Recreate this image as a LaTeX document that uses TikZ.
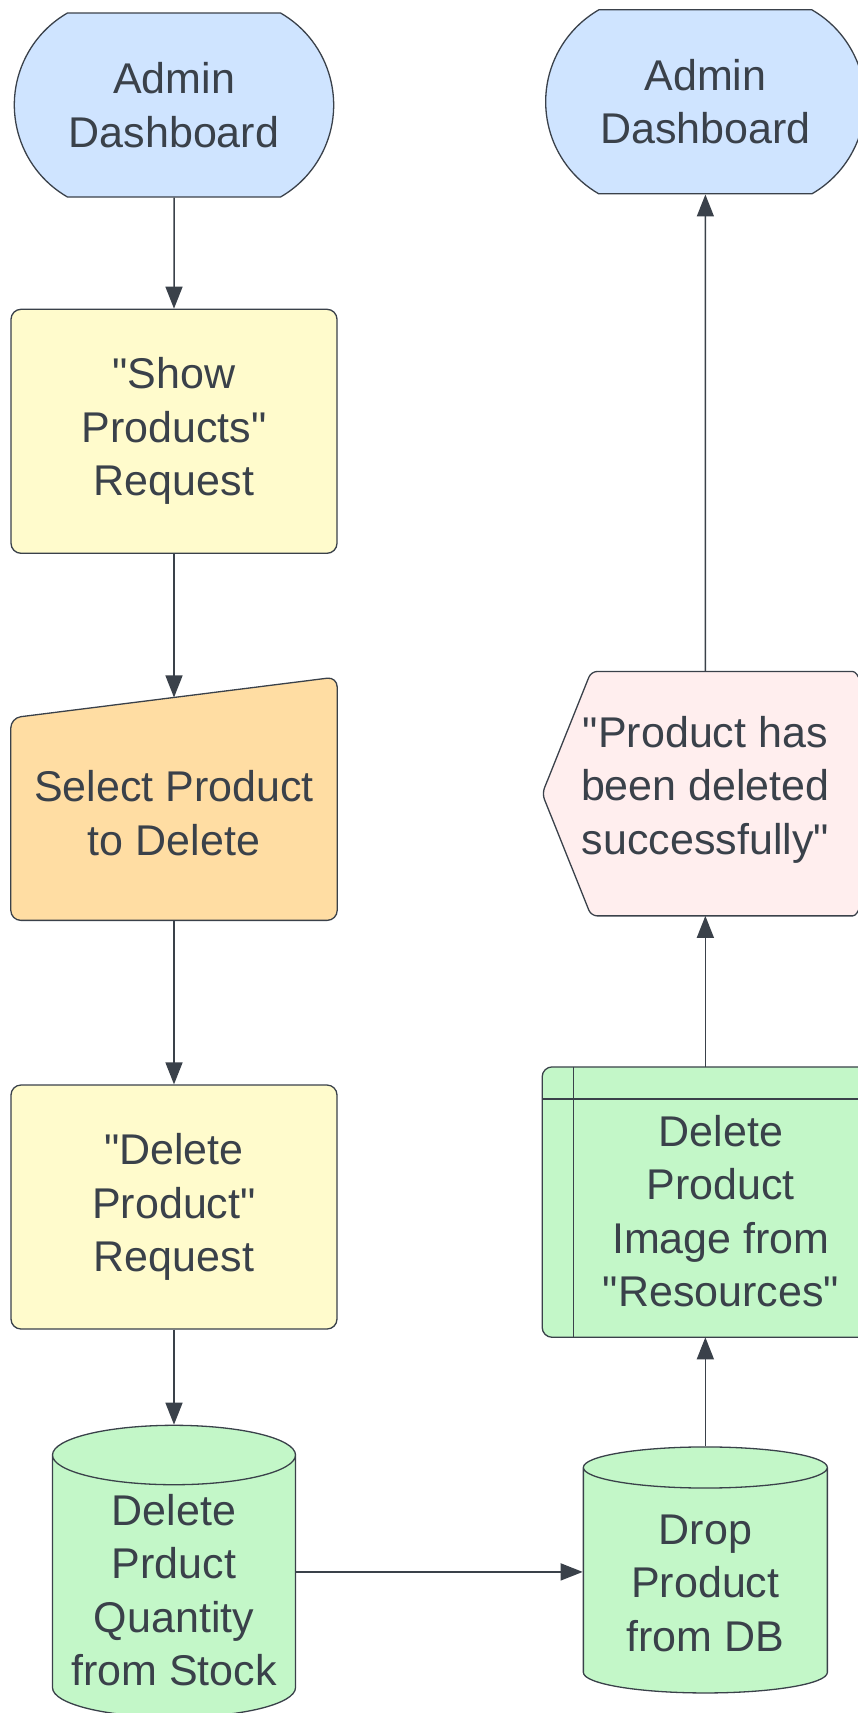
\documentclass[tikz,border=0pt]{standalone}
\usepackage{fontspec}
\setmainfont{Liberation Sans}[Ligatures=TeXOff]
\usetikzlibrary{positioning, shapes.misc, shapes.geometric, arrows.meta, backgrounds}
\definecolor{ink}{HTML}{3A414A}
\definecolor{termblue}{HTML}{CFE4FF}
\definecolor{reqyellow}{HTML}{FFFBCC}
\definecolor{inputorange}{HTML}{FFDDA3}
\definecolor{dbgreen}{HTML}{C3F7C8}
\definecolor{msgpink}{HTML}{FFEEEE}
\tikzset{
every node/.style={font=\fontsize{43}{53.5}\selectfont, text=ink, align=center}, % text of every box
flow/.style={->, draw=ink, line width=1.5pt}, % the connectors
>={Triangle[length=22pt, width=17pt]}, % bold arrow heads
terminal/.style={rounded rectangle, rounded rectangle arc length=120, draw=ink, line width=1.3pt, fill=termblue, minimum width=326pt, minimum height=184pt},
request/.style={rectangle, rounded corners=10pt, draw=ink, line width=1.3pt, fill=reqyellow, minimum width=326pt, minimum height=244pt},
database/.style={cylinder, shape border rotate=90, aspect=0.28, draw=ink, line width=1.3pt, fill=dbgreen, minimum width=243pt},
outline/.style={draw=ink, line width=1.3pt}, % shapes drawn by hand
}
\begin{document}
\begin{tikzpicture}
    \useasboundingbox (0,0) rectangle (858pt,-1713pt);
    % left column, going down
    \node[terminal] (dashL) at (174pt,-105pt) {Admin\\Dashboard};
    \node[request, below=111pt of dashL] (showReq) {"Show\\Products"\\Request};
    \node[minimum width=326pt, minimum height=190pt, below=164pt of showReq] (pick) {Select Product\\to Delete};
    \node[request, below=176pt of pick] (deleteReq) {"Delete\\Product"\\Request};
    \node[database, minimum height=292pt, below=95pt of deleteReq] (stockDB) {Delete\\Prduct\\Quantity\\from Stock};
    % right column, going up
    \node[database, aspect=0.25, minimum width=244pt, minimum height=246pt, right=286.5pt of stockDB, yshift=7pt] (dropDB) {Drop\\Product\\from DB};
    \node[minimum width=295pt, minimum height=224pt, above=123pt of dropDB, xshift=15.5pt] (dropImg) {Delete\\Product\\Image from\\"Resources"};
    \node[minimum width=326pt, minimum height=236pt, above=191pt of dropImg, xshift=-15.5pt] (doneMsg) {"Product has\\been deleted\\successfully"};
    \node[terminal, above=477pt of doneMsg] (dashR) {Admin\\Dashboard};

    \begin{scope}[on background layer]
        % manual input
        \draw[outline, fill=inputorange, rounded corners=10pt] (pick.north west) -- ([yshift=41pt]pick.north east) -- ([yshift=-12pt]pick.south east) -- ([yshift=-12pt]pick.south west) -- cycle;
        % display
        \draw[outline, fill=msgpink, rounded corners=6pt] ([yshift=-4pt]doneMsg.west) -- ([xshift=49pt]doneMsg.north west) -- ([xshift=-22pt]doneMsg.north east)
            .. controls ([xshift=8pt]doneMsg.north east) and ([xshift=8pt, yshift=-8pt]doneMsg.south east) .. ([xshift=-22pt, yshift=-8pt]doneMsg.south east)
            -- ([xshift=49pt, yshift=-8pt]doneMsg.south west) -- cycle;
        % predefined process
        \draw[outline, fill=dbgreen, rounded corners=10pt] ([xshift=-31pt, yshift=32pt]dropImg.north west) rectangle ([yshift=-14pt]dropImg.south east);
        \draw[outline] ([yshift=32pt]dropImg.north west) -- ([yshift=-14pt]dropImg.south west);
        \draw[outline] ([xshift=-31pt]dropImg.north west) -- (dropImg.north east);
    \end{scope}

    \draw[flow] (dashL) -- (showReq);
    \draw[flow] (showReq) -- ([yshift=20.5pt]pick.north);
    \draw[flow] ([yshift=-12pt]pick.south) -- (deleteReq);
    \draw[flow] (deleteReq) -- (stockDB);
    \draw[flow] ([yshift=18pt]stockDB.east) -- ([yshift=18pt]stockDB.east -| dropDB.west);
    \draw[flow] (dropDB) -- ([yshift=-14pt]dropDB |- dropImg.south);
    \draw[flow] ([yshift=32pt]doneMsg |- dropImg.north) -- ([yshift=-8pt]doneMsg.south);
    \draw[flow] (doneMsg) -- (dashR);
\end{tikzpicture}
\end{document}
